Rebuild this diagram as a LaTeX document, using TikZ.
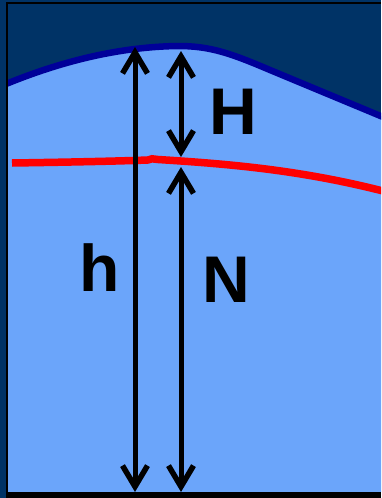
\documentclass[tikz,border=0pt]{standalone}
\usepackage{fontspec}
\setmainfont{Liberation Sans}
\usetikzlibrary{arrows.meta}
\definecolor{navy}{RGB}{0,51,102}
\definecolor{sky}{RGB}{107,165,250}
\definecolor{geoid}{RGB}{0,0,153}
\begin{document}
\begin{tikzpicture}[x=1pt, y=-1pt,
  barb/.tip={Straight Barb[length=21pt,width=25pt,line width=5.5pt]},
  dim/.style={barb-barb, line width=5pt},
  lbl/.style={font=\fontsize{66}{66}\selectfont\bfseries, inner sep=0pt}]
\useasboundingbox (0,0) rectangle (381,498);
\fill[navy] (0,0) rectangle (381,498);
\begin{scope}
\clip (7.5,3.5) rectangle (381,492);
\fill[sky] (6,492) -- (6,84) .. controls (50,66) and (110,47) .. (178,46) .. controls (210,46) and (230,53) .. (270,70) -- (383,117) -- (383,492) -- cycle;
\draw[geoid, line width=6.5pt] (6,84) .. controls (50,66) and (110,47) .. (178,46) .. controls (210,46) and (230,53) .. (270,70) -- (383,117);
\draw[red, line width=7.5pt] (12,163) .. controls (80,162) and (120,161) .. (148,160) -- (152,158.8) -- (158,159.5) .. controls (230,164) and (300,170) .. (383,191);
\end{scope}
\draw[black, line width=1.5pt] (7,498) -- (7,3) -- (381,3);
\fill[black] (7,492) rectangle (381,498);
% arrows
\coordinate (hTop) at (135,47);
\coordinate (hBot) at (135,492);
\coordinate (HTop) at (181,51);
\coordinate (HBot) at (181,157);
\coordinate (NTop) at (181,167);
\coordinate (NBot) at (181,492);
\draw[dim] (hTop) -- (hBot);
\draw[dim] (HTop) -- (HBot);
\draw[dim] (NTop) -- (NBot);
% labels
\node[lbl] (lblH) at (233,112) {H};
\node[lbl] (lblh) at (100,268) {h};
\node[lbl] (lblN) at (226,280) {N};
\end{tikzpicture}
\end{document}
